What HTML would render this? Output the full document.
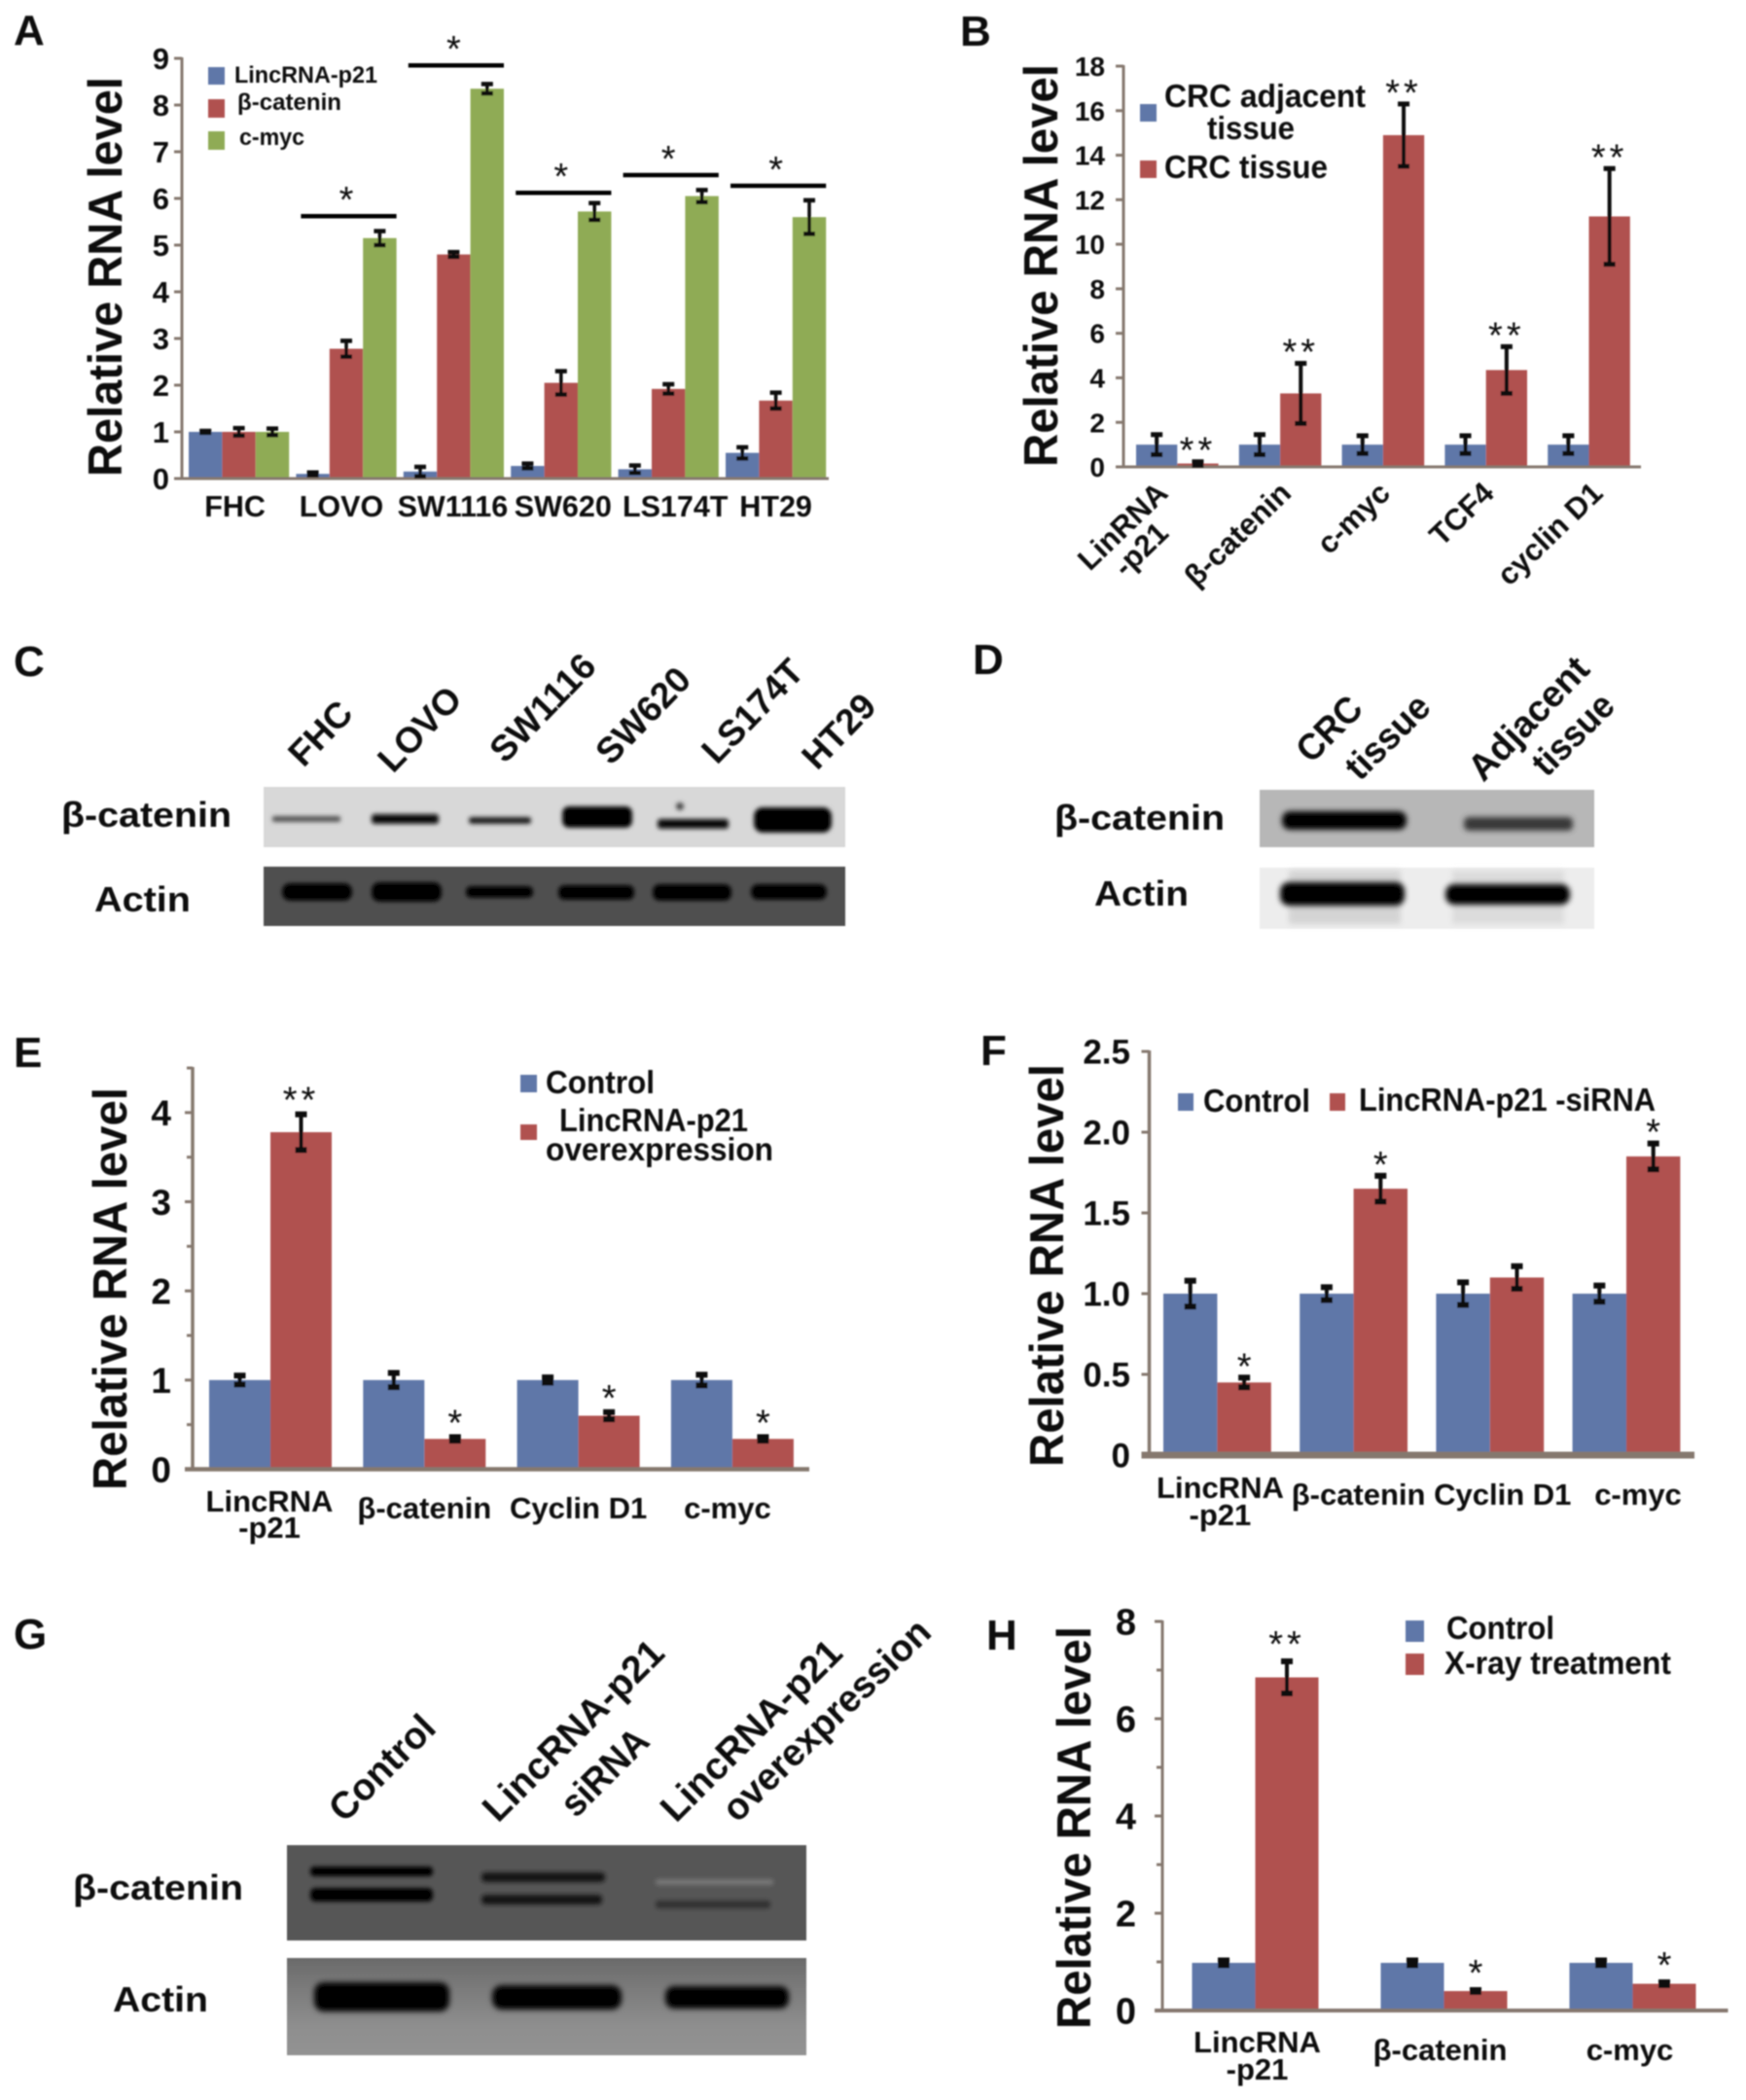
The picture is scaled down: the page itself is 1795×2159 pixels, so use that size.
<!DOCTYPE html>
<html lang="en">
<head>
<meta charset="utf-8">
<title>LincRNA-p21 and β-catenin figure</title>
<style>
html,body{margin:0;padding:0;background:#fff;}
body{width:1795px;height:2159px;overflow:hidden;}
svg{display:block;}
text{font-family:"Liberation Sans",sans-serif;font-weight:bold;fill:#0c0c0c;}
</style>
</head>
<body>
<svg id="figure" xmlns="http://www.w3.org/2000/svg" width="1795" height="2159" viewBox="0 0 1795 2159">
<defs>
<filter id="soft" filterUnits="userSpaceOnUse" x="0" y="0" width="1795" height="2159"><feGaussianBlur stdDeviation="0.7"/></filter>
<filter id="b2" x="-20%" y="-150%" width="140%" height="400%"><feGaussianBlur stdDeviation="2"/></filter>
<filter id="b3" x="-20%" y="-150%" width="140%" height="400%"><feGaussianBlur stdDeviation="3"/></filter>
<filter id="b6" x="-20%" y="-100%" width="140%" height="300%"><feGaussianBlur stdDeviation="6"/></filter>
<linearGradient id="g-actin-bg" x1="0" y1="0" x2="0" y2="1"><stop offset="0" stop-color="#6a6a6a"/><stop offset="0.3" stop-color="#7a7a7a"/><stop offset="0.7" stop-color="#8e8e8e"/><stop offset="1" stop-color="#929292"/></linearGradient>
</defs>
<rect width="1795" height="2159" fill="#fff"/>
<g filter="url(#soft)">

<!-- Panel letters -->
<text x="14" y="46" font-size="44">A</text>
<text x="987" y="47" font-size="44">B</text>
<text x="14" y="695" font-size="44">C</text>
<text x="1000" y="693" font-size="44">D</text>
<text x="14" y="1097" font-size="44">E</text>
<text x="1008" y="1095" font-size="44">F</text>
<text x="14" y="1695" font-size="44">G</text>
<text x="1014" y="1696" font-size="44">H</text>

<!-- Panel A static -->
<g id="panel-a">
<text transform="translate(125 490) rotate(-90)" font-size="49" textLength="411" lengthAdjust="spacingAndGlyphs">Relative RNA level</text>
<rect x="214" y="69" width="17" height="18" fill="#5f77a8"/>
<rect x="214" y="102" width="17" height="19" fill="#b0514f"/>
<rect x="214" y="135" width="17" height="19" fill="#8fab55"/>
<text x="241" y="85" font-size="24" textLength="147" lengthAdjust="spacingAndGlyphs">LincRNA-p21</text>
<text x="244" y="113" font-size="24" textLength="107" lengthAdjust="spacingAndGlyphs">β-catenin</text>
<text x="246" y="149" font-size="24" textLength="67" lengthAdjust="spacingAndGlyphs">c-myc</text>
</g>

<!-- Panel B static -->
<g id="panel-b">
<text transform="translate(1087 480) rotate(-90)" font-size="49" textLength="414" lengthAdjust="spacingAndGlyphs">Relative RNA level</text>
<rect x="1172" y="107" width="17" height="18" fill="#5f77a8"/>
<rect x="1172" y="165" width="17" height="18" fill="#b0514f"/>
<text x="1197" y="110" font-size="33" textLength="207" lengthAdjust="spacingAndGlyphs">CRC adjacent</text>
<text x="1241" y="143" font-size="33" textLength="90" lengthAdjust="spacingAndGlyphs">tissue</text>
<text x="1197" y="183" font-size="33" textLength="168" lengthAdjust="spacingAndGlyphs">CRC tissue</text>
</g>

<!-- Panel C blot -->
<g>
<text transform="translate(312 790) rotate(-46)" font-size="37">FHC</text>
<text transform="translate(404 796) rotate(-46)" font-size="37">LOVO</text>
<text transform="translate(519 786) rotate(-46)" font-size="37">SW1116</text>
<text transform="translate(628 788) rotate(-46)" font-size="37">SW620</text>
<text transform="translate(737 787) rotate(-46)" font-size="37">LS174T</text>
<text transform="translate(840 793) rotate(-46)" font-size="37">HT29</text>
<text x="63" y="850" font-size="36" textLength="175" lengthAdjust="spacingAndGlyphs">β-catenin</text>
<text x="97" y="937" font-size="36" textLength="99" lengthAdjust="spacingAndGlyphs">Actin</text>
<rect x="271" y="809" width="598" height="62" fill="#d8d8d8"/>
<g filter="url(#b2)">
<rect x="280" y="839" width="70" height="6" rx="2" fill="#555"/>
<rect x="382" y="837" width="69" height="10" rx="3" fill="#0a0a0a"/>
<rect x="482" y="840" width="64" height="7" rx="3" fill="#1a1a1a"/>
<rect x="578" y="829" width="72" height="22" rx="7" fill="#000"/>
<rect x="676" y="842" width="73" height="10" rx="3" fill="#0a0a0a"/>
<rect x="775" y="830" width="80" height="26" rx="9" fill="#000"/>
<circle cx="699" cy="829" r="4" fill="#444"/>
</g>
<rect x="271" y="891" width="598" height="61" fill="#505050"/>
<g filter="url(#b2)">
<rect x="290" y="908" width="72" height="18" rx="8" fill="#000"/>
<rect x="382" y="907" width="72" height="20" rx="8" fill="#000"/>
<rect x="479" y="911" width="69" height="12" rx="5" fill="#000"/>
<rect x="574" y="910" width="78" height="15" rx="6" fill="#000"/>
<rect x="671" y="909" width="81" height="17" rx="7" fill="#000"/>
<rect x="772" y="909" width="78" height="16" rx="7" fill="#000"/>
</g>
</g>

<!-- Panel D blot -->
<g>
<text transform="translate(1348 786) rotate(-45)" font-size="38" textLength="78" lengthAdjust="spacingAndGlyphs">CRC</text>
<text transform="translate(1398 804) rotate(-45)" font-size="38" textLength="106" lengthAdjust="spacingAndGlyphs">tissue</text>
<text transform="translate(1525 805) rotate(-46)" font-size="38" textLength="160" lengthAdjust="spacingAndGlyphs">Adjacent</text>
<text transform="translate(1590 800) rotate(-45)" font-size="38" textLength="102" lengthAdjust="spacingAndGlyphs">tissue</text>
<text x="1084" y="853" font-size="36" textLength="175" lengthAdjust="spacingAndGlyphs">β-catenin</text>
<text x="1125" y="931" font-size="36" textLength="97" lengthAdjust="spacingAndGlyphs">Actin</text>
<rect x="1295" y="812" width="344" height="59" fill="#b7b7b7"/>
<g filter="url(#b3)">
<rect x="1318" y="834" width="128" height="19" rx="8" fill="#000"/>
<rect x="1505" y="840" width="112" height="14" rx="5" fill="#383838"/>
</g>
<rect x="1295" y="892" width="344" height="63" fill="#ededed"/>
<g filter="url(#b3)">
<rect x="1325" y="895" width="115" height="55" fill="#d4d4d4"/>
<rect x="1493" y="895" width="115" height="55" fill="#dcdcdc"/>
</g>
<g filter="url(#b3)">
<rect x="1316" y="907" width="128" height="24" rx="9" fill="#000"/>
<rect x="1486" y="909" width="128" height="21" rx="9" fill="#000"/>
</g>
</g>

<!-- Panel E static -->
<g id="panel-e">
<text transform="translate(130 1532) rotate(-90)" font-size="49" textLength="414" lengthAdjust="spacingAndGlyphs">Relative RNA level</text>
<rect x="535" y="1105" width="17" height="18" fill="#5f77a8"/>
<rect x="535" y="1156" width="17" height="16" fill="#b0514f"/>
<text x="561" y="1124" font-size="33" textLength="112" lengthAdjust="spacingAndGlyphs">Control</text>
<text x="575" y="1163" font-size="33" textLength="194" lengthAdjust="spacingAndGlyphs">LincRNA-p21</text>
<text x="561" y="1193" font-size="33" textLength="234" lengthAdjust="spacingAndGlyphs">overexpression</text>
</g>

<!-- Panel F static -->
<g id="panel-f">
<text transform="translate(1093 1508) rotate(-90)" font-size="49" textLength="414" lengthAdjust="spacingAndGlyphs">Relative RNA level</text>
<rect x="1211" y="1124" width="16" height="18" fill="#5f77a8"/>
<rect x="1367" y="1124" width="16" height="18" fill="#b0514f"/>
<text x="1237" y="1143" font-size="33" textLength="110" lengthAdjust="spacingAndGlyphs">Control</text>
<text x="1397" y="1142" font-size="33" textLength="305" lengthAdjust="spacingAndGlyphs">LincRNA-p21 -siRNA</text>
</g>

<!-- Panel G blot -->
<g>
<text transform="translate(354 1875) rotate(-45)" font-size="39" textLength="136" lengthAdjust="spacingAndGlyphs">Control</text>
<text transform="translate(512 1875) rotate(-45)" font-size="39" textLength="245" lengthAdjust="spacingAndGlyphs">LincRNA-p21</text>
<text transform="translate(592 1870) rotate(-45)" font-size="39" textLength="110" lengthAdjust="spacingAndGlyphs">siRNA</text>
<text transform="translate(695 1875) rotate(-45)" font-size="39" textLength="245" lengthAdjust="spacingAndGlyphs">LincRNA-p21</text>
<text transform="translate(758 1875) rotate(-44)" font-size="39" textLength="280" lengthAdjust="spacingAndGlyphs">overexpression</text>
<text x="75" y="1953" font-size="36" textLength="175" lengthAdjust="spacingAndGlyphs">β-catenin</text>
<text x="116" y="2068" font-size="36" textLength="98" lengthAdjust="spacingAndGlyphs">Actin</text>
<rect x="295" y="1897" width="534" height="98" fill="#565656"/>
<g filter="url(#b2)">
<rect x="319" y="1919" width="126" height="10" rx="4" fill="#050505"/>
<rect x="319" y="1941" width="126" height="14" rx="5" fill="#000"/>
<rect x="495" y="1925" width="127" height="10" rx="4" fill="#141414"/>
<rect x="495" y="1948" width="124" height="10" rx="4" fill="#141414"/>
<rect x="674" y="1932" width="121" height="6" rx="2" fill="#777"/>
<rect x="674" y="1954" width="118" height="8" rx="3" fill="#303030"/>
</g>
<rect x="295" y="2013" width="534" height="100" fill="url(#g-actin-bg)"/>
<g filter="url(#b3)">
<rect x="323" y="2038" width="139" height="30" rx="10" fill="#000"/>
<rect x="506" y="2041" width="133" height="25" rx="10" fill="#000"/>
<rect x="684" y="2042" width="127" height="23" rx="9" fill="#000"/>
</g>
</g>

<!-- Panel H static -->
<g id="panel-h">
<text transform="translate(1121 2086) rotate(-90)" font-size="49" textLength="414" lengthAdjust="spacingAndGlyphs">Relative RNA level</text>
<rect x="1445" y="1666" width="19" height="22" fill="#5f77a8"/>
<rect x="1445" y="1700" width="19" height="22" fill="#b0514f"/>
<text x="1487" y="1685" font-size="33" textLength="111" lengthAdjust="spacingAndGlyphs">Control</text>
<text x="1485" y="1721" font-size="33" textLength="233" lengthAdjust="spacingAndGlyphs">X-ray treatment</text>
</g>
</g>
</svg>

<script>
// ---- Panel A data ----
const aCategories = ['FHC', 'LOVO', 'SW1116', 'SW620', 'LS174T', 'HT29'];
const aLincrna = [1, 0.1, 0.15, 0.27, 0.2, 0.55];
const aCatenin = [1, 2.78, 4.8, 2.05, 1.92, 1.67];
const aMyc = [1, 5.15, 8.35, 5.72, 6.05, 5.6];
const aLincrnaErr = [0.02, 0.03, 0.1, 0.05, 0.08, 0.12];
const aCateninErr = [0.08, 0.17, 0.05, 0.25, 0.1, 0.17];
const aMycErr = [0.07, 0.15, 0.1, 0.18, 0.13, 0.36];
const aSignificance = [null, 5.62, 8.85, 6.12, 6.5, 6.27];
const aTicks = [0, 1, 2, 3, 4, 5, 6, 7, 8, 9];
const aTickLabels = ['0', '1', '2', '3', '4', '5', '6', '7', '8', '9'];

// ---- Panel B data ----
const bCategories = ['LinRNA\n-p21', 'β-catenin', 'c-myc', 'TCF4', 'cyclin D1'];
const bAdjacent = [1, 1, 1, 1, 1];
const bTissue = [0.15, 3.3, 14.9, 4.35, 11.25];
const bAdjacentErr = [0.45, 0.45, 0.4, 0.4, 0.4];
const bTissueErr = [0.08, 1.35, 1.4, 1.05, 2.15];
const bStars = ['**', '**', '**', '**', '**'];
const bTicks = [0, 2, 4, 6, 8, 10, 12, 14, 16, 18];
const bTickLabels = ['0', '2', '4', '6', '8', '10', '12', '14', '16', '18'];

// ---- Panel E data ----
const eCategories = ['LincRNA\n-p21', 'β-catenin', 'Cyclin D1', 'c-myc'];
const eControl = [1, 1, 1, 1];
const eOver = [3.78, 0.34, 0.6, 0.34];
const eControlErr = [0.05, 0.08, 0.03, 0.06];
const eOverErr = [0.2, 0.02, 0.04, 0.02];
const eStars = ['**', '*', '*', '*'];
const eTicks = [0, 1, 2, 3, 4];
const eTickLabels = ['0', '1', '2', '3', '4'];
const eMinorTicks = [0.5, 1.5, 2.5, 3.5, 4.5];

// ---- Panel F data ----
const fCategories = ['LincRNA\n-p21', 'β-catenin', 'Cyclin D1', 'c-myc'];
const fControl = [1, 1, 1, 1];
const fSirna = [0.45, 1.65, 1.1, 1.85];
const fControlErr = [0.08, 0.04, 0.07, 0.05];
const fSirnaErr = [0.03, 0.08, 0.07, 0.08];
const fStars = ['*', '*', '', '*'];
const fTicks = [0, 0.5, 1, 1.5, 2, 2.5];
const fTickLabels = ['0', '0.5', '1.0', '1.5', '2.0', '2.5'];

// ---- Panel H data ----
const hCategories = ['LincRNA\n-p21', 'β-catenin', 'c-myc'];
const hControl = [0.98, 0.98, 0.98];
const hXray = [6.85, 0.4, 0.55];
const hControlErr = [0.05, 0.05, 0.05];
const hXrayErr = [0.33, 0.02, 0.03];
const hStars = ['**', '*', '*'];
const hTicks = [0, 2, 4, 6, 8];
const hTickLabels = ['0', '2', '4', '6', '8'];
const hMinorTicks = [1, 3, 5, 7];

const BLUE = '#5f77a8', RED = '#b0514f', GREEN = '#8fab55', AXIS = '#85786e';
const NS = 'http://www.w3.org/2000/svg';

function make(tag, attrs, parent, content) {
  const node = document.createElementNS(NS, tag);
  for (const key in attrs) node.setAttribute(key, attrs[key]);
  if (content !== undefined) node.textContent = content;
  parent.appendChild(node);
  return node;
}

function drawChart(cfg) {
  const root = document.getElementById(cfg.id);
  const yScale = v => cfg.yZero - (v / cfg.yMax) * (cfg.yZero - cfg.yTop);
  const groupX = i => cfg.groupStart + i * cfg.groupPitch;
  const barX = (i, s) => groupX(i) + s * cfg.barWidth;
  const groupMid = i => groupX(i) + cfg.series.length * cfg.barWidth / 2;
  const nudge = i => (cfg.labelNudge ? cfg.labelNudge[i] : 0);

  // bars
  cfg.series.forEach((series, s) => {
    series.values.forEach((value, i) => {
      const bar = make('rect', {x: barX(i, s), y: yScale(value), width: cfg.barWidth, height: cfg.yZero - yScale(value), fill: series.color}, root);
      
      
    });
  });

  // axes
  const yAxis = make('line', {x1: cfg.x0, x2: cfg.x0, y1: cfg.yTop - 1, y2: cfg.yZero, stroke: AXIS, 'stroke-width': cfg.yAxisWidth}, root);
  
  
  const xAxis = make('line', {x1: cfg.x0 - 8, x2: cfg.xEnd, y1: cfg.yZero, y2: cfg.yZero, stroke: AXIS, 'stroke-width': cfg.xAxisWidth}, root);
  
  

  // ticks
  cfg.ticks.forEach((value, i) => {
    const tick = make('line', {x1: cfg.x0 - 8, x2: cfg.x0, y1: yScale(value), y2: yScale(value), stroke: AXIS, 'stroke-width': 3}, root);
    
    
    const label = make('text', {x: cfg.tickLabelX, y: yScale(value) + cfg.tickFont * 0.36, 'font-size': cfg.tickFont, 'text-anchor': 'end'}, root, cfg.tickLabels[i]);
    
    
  });
  (cfg.minorTicks || []).forEach(value => {
    const tick = make('line', {x1: cfg.x0 - 6, x2: cfg.x0, y1: yScale(value), y2: yScale(value), stroke: AXIS, 'stroke-width': 3}, root);
    
    
  });

  // error bars
  cfg.series.forEach((series, s) => {
    series.values.forEach((value, i) => {
      const cx = barX(i, s) + cfg.barWidth / 2;
      const top = yScale(value + series.errors[i]);
      const bottom = yScale(value - series.errors[i]);
      const stem = make('line', {x1: cx, x2: cx, y1: top, y2: bottom, stroke: '#0a0a0a', 'stroke-width': cfg.errWidth}, root);
      
      
      const capTop = make('line', {x1: cx - cfg.capHalf, x2: cx + cfg.capHalf, y1: top, y2: top, stroke: '#0a0a0a', 'stroke-width': cfg.capWidth}, root);
      
      
      const capBottom = make('line', {x1: cx - cfg.capHalf, x2: cx + cfg.capHalf, y1: bottom, y2: bottom, stroke: '#0a0a0a', 'stroke-width': cfg.capWidth}, root);
      
      
    });
  });

  // category labels
  cfg.categories.forEach((category, i) => {
    const lines = category.split('\n');
    lines.forEach((line, l) => {
      let attrs;
      if (cfg.labelAngle) {
        const px = groupMid(i) + cfg.labelDx + nudge(i);
        const local = 'translate(' + px + ' ' + cfg.labelY + ') rotate(' + cfg.labelAngle + ')';
        attrs = {transform: local, x: l ? -cfg.wrapIndent : 0, y: l * cfg.labelLine, 'font-size': cfg.labelFont, 'text-anchor': 'end'};
      } else {
        attrs = {x: groupMid(i) + cfg.labelDx + nudge(i), y: (lines.length > 1 ? cfg.labelY2 : cfg.labelY) + l * cfg.labelLine, 'font-size': cfg.labelFont, 'text-anchor': 'middle'};
      }
      const label = make('text', attrs, root, line);
      
      
    });
  });

  // asterisks over a series
  if (cfg.stars) {
    const last = cfg.series[cfg.series.length - 1];
    cfg.stars.forEach((star, i) => {
      if (!star) return;
      const cx = barX(i, cfg.series.length - 1) + cfg.barWidth / 2;
      const top = yScale(last.values[i] + last.errors[i]);
      const mark = make('text', {x: cx, y: top - cfg.starGap + 22, 'font-size': 38, 'text-anchor': 'middle', 'letter-spacing': star.length > 1 ? 4 : 0, style: 'font-weight:normal'}, root, star);
      
      
    });
  }

  // significance brackets
  if (cfg.significance) {
    cfg.significance.forEach((value, i) => {
      if (value === null) return;
      const bracket = make('line', {x1: groupX(i) + 5, x2: groupX(i) + cfg.series.length * cfg.barWidth, y1: yScale(value), y2: yScale(value), stroke: '#000', 'stroke-width': 4.5}, root);
      
      
      const mark = make('text', {x: groupMid(i), y: yScale(value) - 4, 'font-size': 38, 'text-anchor': 'middle', style: 'font-weight:normal'}, root, '*');
      
      
    });
  }
}

drawChart({
  id: 'panel-a', x0: 187, xEnd: 852, yTop: 60, yZero: 492, yMax: 9, yAxisWidth: 3, xAxisWidth: 3,
  groupStart: 194, groupPitch: 110.4, barWidth: 34.4,
  categories: aCategories, ticks: aTicks, tickLabels: aTickLabels, tickLabelX: 174, tickFont: 31,
  labelY: 531, labelFont: 30.5, labelDx: -1, labelLine: 30, labelNudge: [-3, -4, 0, 3, 8, 1],
  errWidth: 3.5, capWidth: 4.5, capHalf: 6, significance: aSignificance,
  series: [
    {values: aLincrna, errors: aLincrnaErr, color: BLUE},
    {values: aCatenin, errors: aCateninErr, color: RED},
    {values: aMyc, errors: aMycErr, color: GREEN}
  ]
});

drawChart({
  id: 'panel-b', x0: 1155, xEnd: 1687, yTop: 68, yZero: 480, yMax: 18, yAxisWidth: 3, xAxisWidth: 3,
  groupStart: 1168, groupPitch: 105.8, barWidth: 42.3,
  categories: bCategories, ticks: bTicks, tickLabels: bTickLabels, tickLabelX: 1136, tickFont: 28,
  labelY: 509, labelFont: 31, labelDx: 6, labelLine: 30, labelAngle: -44, wrapIndent: 28, labelNudge: [-14, 7, 3, 4, 10],
  errWidth: 4, capWidth: 5, capHalf: 6, stars: bStars, starGap: 21,
  series: [
    {values: bAdjacent, errors: bAdjacentErr, color: BLUE},
    {values: bTissue, errors: bTissueErr, color: RED}
  ]
});

drawChart({
  id: 'panel-e', x0: 198, xEnd: 832, yTop: 1098, yZero: 1510.5, yMax: 4.5, yAxisWidth: 3.5, xAxisWidth: 4.5,
  groupStart: 215, groupPitch: 158.3, barWidth: 63,
  categories: eCategories, ticks: eTicks, tickLabels: eTickLabels, minorTicks: eMinorTicks, tickLabelX: 176, tickFont: 37,
  labelY: 1561, labelY2: 1554, labelFont: 31, labelDx: 0, labelLine: 27, labelNudge: [-1, 0, 0, -5],
  errWidth: 4, capWidth: 6, capHalf: 6, stars: eStars, starGap: 24,
  series: [
    {values: eControl, errors: eControlErr, color: BLUE},
    {values: eOver, errors: eOverErr, color: RED}
  ]
});

drawChart({
  id: 'panel-f', x0: 1181.5, xEnd: 1742, yTop: 1081, yZero: 1496, yMax: 2.5, yAxisWidth: 3.5, xAxisWidth: 7,
  groupStart: 1196, groupPitch: 140.2, barWidth: 55.4,
  categories: fCategories, ticks: fTicks, tickLabels: fTickLabels, tickLabelX: 1162, tickFont: 35,
  labelY: 1547, labelY2: 1540, labelFont: 31, labelDx: 5, labelLine: 28, labelNudge: [-2, 0, 8, 7],
  errWidth: 4, capWidth: 6, capHalf: 6, stars: fStars, starGap: 21,
  series: [
    {values: fControl, errors: fControlErr, color: BLUE},
    {values: fSirna, errors: fSirnaErr, color: RED}
  ]
});

drawChart({
  id: 'panel-h', x0: 1195, xEnd: 1776.5, yTop: 1667, yZero: 2067, yMax: 8, yAxisWidth: 3, xAxisWidth: 4,
  groupStart: 1225.5, groupPitch: 194, barWidth: 65,
  categories: hCategories, ticks: hTicks, tickLabels: hTickLabels, minorTicks: hMinorTicks, tickLabelX: 1168, tickFont: 38,
  labelY: 2118, labelY2: 2110, labelFont: 31, labelDx: 0, labelLine: 28, labelNudge: [2, -4, -3],
  errWidth: 4, capWidth: 6, capHalf: 6, stars: hStars, starGap: 27,
  series: [
    {values: hControl, errors: hControlErr, color: BLUE},
    {values: hXray, errors: hXrayErr, color: RED}
  ]
});
</script>
</body>
</html>
